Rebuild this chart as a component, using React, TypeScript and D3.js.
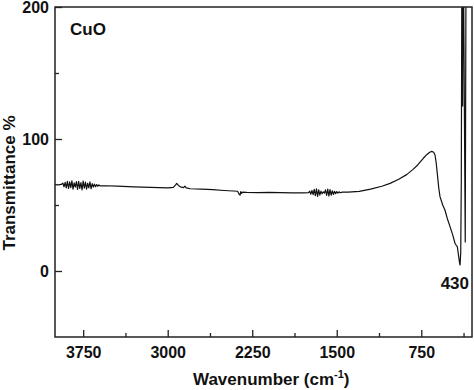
import React, { useRef, useEffect } from 'react';
import * as d3 from 'd3';

// wavenumber (cm-1) and transmittance (%), left to right
const wavenumbers: number[] = [
    4000, 3970, 3945,
    3930, 3920, 3910, 3900, 3890, 3880, 3870, 3860, 3850, 3840, 3830, 3820, 3810, 3800, 3790, 3780,
    3770, 3760, 3750, 3740, 3730, 3720, 3710, 3700, 3690, 3680, 3670, 3660, 3650, 3640, 3630, 3620, 3610, 3600,
    3550, 3450, 3300, 3150, 3000, 2950, 2930, 2920, 2905, 2880, 2860, 2848, 2835, 2800, 2700, 2600, 2500,
    2420, 2380, 2365, 2358, 2352, 2345, 2335, 2300, 2200, 2100, 2000, 1900, 1800, 1750,
    1740, 1730, 1720, 1710, 1700, 1690, 1680, 1670, 1660, 1650, 1640, 1630, 1620, 1610, 1600, 1590, 1580,
    1570, 1560, 1550, 1540, 1530, 1520, 1510, 1500, 1490, 1480, 1470, 1450,
    1400, 1300, 1200, 1100, 1027, 950, 880, 823, 780, 732, 700, 675, 657, 640, 628, 618, 608, 595, 584,
    560, 540, 520, 495, 470, 451, 440, 430, 420, 410, 406,
    400, 395, 389, 383, 378, 360, 352,
];

const transmittance: number[] = [
    65.5, 65.3, 65.6,
    66.5, 63.8, 67.2, 63.0, 68.0, 62.5, 67.5, 63.2, 68.3, 62.0, 66.8, 63.5, 67.8, 61.8, 68.0, 62.5,
    67.0, 61.5, 68.2, 62.8, 67.4, 62.0, 66.5, 63.0, 67.6, 62.3, 66.2, 63.6, 65.8, 63.8, 65.5, 64.2, 65.2, 64.5,
    64.6, 64.3, 63.8, 63.4, 63.0, 63.3, 65.2, 66.3, 64.8, 63.5, 63.2, 64.2, 63.0, 62.3, 62.0, 61.6, 61.0,
    60.6, 60.4, 58.0, 57.5, 60.2, 58.8, 59.8, 59.6, 59.4, 59.5, 59.3, 59.2, 59.2, 59.4,
    60.5, 58.2, 61.0, 57.8, 61.8, 57.0, 62.2, 56.5, 61.5, 57.5, 60.5, 58.5, 60.0, 59.0, 61.5, 57.2, 62.0,
    56.8, 61.6, 57.4, 60.8, 58.0, 60.4, 58.6, 60.2, 59.0, 60.0, 59.3, 59.8,
    59.8, 60.3, 62.0, 64.2, 66.4, 69.5, 73.0, 77.0, 80.5, 85.4, 88.3, 90.0, 90.6, 90.0, 87.9, 82.0, 74.0, 63.0, 56.3,
    50.0, 46.2, 40.0, 33.6, 27.0, 21.0, 19.5, 18.4, 12.0, 6.0, 4.5,
    14.0, 68.0, 260.0, 125.0, 260.0, 22.0, 260.0,
];

const xMajorTicks = [3750, 3000, 2250, 1500, 750];
const xMinorTicks = [3375, 2625, 1875, 1125, 375];
const yMajorTicks = [0, 100, 200];
const yMinorTicks = [50, 150];

const sampleLabel = 'CuO';
const peakLabel = '430';

export default function App() {
    const svgRef = useRef<SVGSVGElement>(null);
    const width = 474;
    const height = 390;

    useEffect(() => {
        if (!svgRef.current) return;
        const svg = d3.select(svgRef.current);
        svg.selectAll('*').remove();

        const margin = { top: 7, right: 2, bottom: 53, left: 55 };
        const innerWidth = width - margin.left - margin.right;
        const innerHeight = height - margin.top - margin.bottom;
        const font = '"Liberation Sans", Arial, sans-serif';

        const x = d3.scaleLinear().domain([4000, 300]).range([0, innerWidth]);
        const y = d3.scaleLinear().domain([-50, 200]).range([innerHeight, 0]);

        const g = svg.append('g').attr('transform', `translate(${margin.left},${margin.top})`);

        svg.append('defs').append('clipPath').attr('id', 'plot-clip')
            .append('rect').attr('width', innerWidth).attr('height', innerHeight);

        // spectrum
        const points = wavenumbers.map((w, i) => [w, transmittance[i]] as [number, number]);
        const line = d3.line<[number, number]>().x(d => x(d[0])).y(d => y(d[1]));
        g.append('path')
            .datum(points)
            .attr('d', line)
            .attr('fill', 'none')
            .attr('stroke', '#111')
            .attr('stroke-width', 1.2)
            .attr('stroke-linejoin', 'round')
            .attr('clip-path', 'url(#plot-clip)');

        // axes, ticks point inward
        const fmt = d3.format('d');
        const xAxis = g.append('g').attr('transform', `translate(0,${innerHeight})`)
            .call(d3.axisBottom(x).tickValues(xMajorTicks).tickFormat(fmt).tickSize(-7).tickSizeOuter(0).tickPadding(10));
        g.append('g').attr('transform', `translate(0,${innerHeight})`)
            .call(d3.axisBottom(x).tickValues(xMinorTicks).tickSize(-4).tickSizeOuter(0).tickFormat(() => ''));
        const yAxis = g.append('g')
            .call(d3.axisLeft(y).tickValues(yMajorTicks).tickFormat(fmt).tickSize(-7).tickSizeOuter(0).tickPadding(6));
        g.append('g')
            .call(d3.axisLeft(y).tickValues(yMinorTicks).tickSize(-4).tickSizeOuter(0).tickFormat(() => ''));

        g.selectAll('.domain').remove();
        g.selectAll('.tick line').attr('stroke', '#222').attr('stroke-width', 1.3);
        [xAxis, yAxis].forEach(a => a.selectAll('text')
            .attr('font-family', font)
            .attr('font-size', 16)
            .attr('font-weight', 'bold')
            .attr('fill', '#111'));

        // frame
        g.append('rect')
            .attr('width', innerWidth)
            .attr('height', innerHeight)
            .attr('fill', 'none')
            .attr('stroke', '#222')
            .attr('stroke-width', 1.5);

        // labels
        g.append('text')
            .attr('x', 15).attr('y', 28)
            .attr('font-family', font).attr('font-size', 17).attr('font-weight', 'bold').attr('fill', '#111')
            .text(sampleLabel);

        g.append('text')
            .attr('x', x(300) - 3).attr('y', y(-13.5))
            .attr('text-anchor', 'end')
            .attr('font-family', font).attr('font-size', 17).attr('font-weight', 'bold').attr('fill', '#111')
            .text(peakLabel);

        const xTitle = svg.append('text')
            .attr('x', 193).attr('y', 385)
            .attr('font-family', font).attr('font-size', 17).attr('font-weight', 'bold').attr('fill', '#111');
        xTitle.append('tspan').text('Wavenumber (cm');
        xTitle.append('tspan').attr('font-size', 11).attr('dy', -7).text('-1');
        xTitle.append('tspan').attr('dy', 7).text(')');

        svg.append('text')
            .attr('transform', `translate(15,183) rotate(-90)`)
            .attr('text-anchor', 'middle')
            .attr('font-family', font).attr('font-size', 17).attr('font-weight', 'bold').attr('fill', '#111')
            .text('Transmittance %');
    }, []);

    return (
        <svg
            ref={svgRef}
            width={width}
            height={height}
            style={{ position: 'absolute', left: 0, top: 0, background: '#fff' }}
        />
    );
}
